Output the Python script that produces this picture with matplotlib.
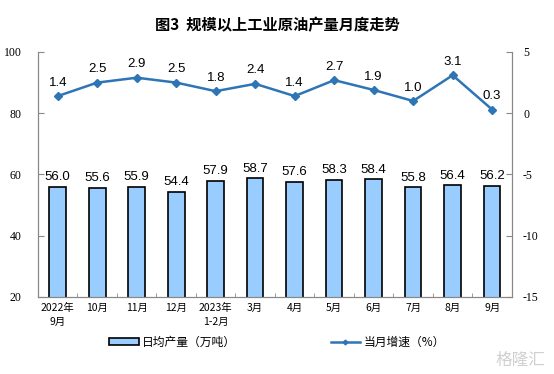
import matplotlib
matplotlib.use('Agg')
import numpy as np
import matplotlib.pyplot as plt

plt.rcParams['font.family'] = ['Noto Sans CJK SC', 'DejaVu Sans']

months = ['2022年\n9月', '10月', '11月', '12月', '2023年\n1-2月', '3月', '4月',
          '5月', '6月', '7月', '8月', '9月']
output = [56.0, 55.6, 55.9, 54.4, 57.9, 58.7, 57.6, 58.3, 58.4, 55.8, 56.4, 56.2]
growth = [1.4, 2.5, 2.9, 2.5, 1.8, 2.4, 1.4, 2.7, 1.9, 1.0, 3.1, 0.3]

fig = plt.figure(figsize=(5.54, 3.74), dpi=100)
fig.text(0.5, 0.933, '图3  规模以上工业原油产量月度走势', ha='center', va='center',
         fontsize=11, fontweight='semibold')
ax = fig.add_axes([0.0686, 0.206, 0.8554, 0.655])
x = np.arange(len(months))
bars = ax.bar(x, output, width=0.42, bottom=0, color='#99ccff', edgecolor='black',
              linewidth=1.2, label='日均产量（万吨）')
ax.set_ylim(20, 100)
ax.set_xlim(-0.5, len(months) - 0.5)
for xi, v in zip(x, output):
    ax.text(xi, v + 1.2, '%.1f' % v, ha='center', va='bottom', fontsize=9.5,
            family='Liberation Sans')
ax.set_yticks([20, 40, 60, 80, 100])
ax.set_yticklabels(['20', '40', '60', '80', '100'], family='Liberation Serif', fontsize=8.5)
ax.set_xticks(x)
ax.set_xticklabels(months, fontsize=7.5, linespacing=1.6)
ax.tick_params(axis='y', direction='in', length=4, color='#888888', pad=12)
ax.tick_params(axis='x', length=0, pad=4)
ax.set_xticks(np.arange(-0.5, len(months), 1), minor=True)
ax.tick_params(axis='x', which='minor', direction='in', length=3, color='#888888')
for s in ax.spines.values():
    s.set_color('#888888')
ax.spines['top'].set_visible(False)

ax2 = ax.twinx()
ax2.plot(x, growth, color='#2e75b6', linewidth=1.8, marker='D', markersize=4,
         label='当月增速（%）')
ax2.set_ylim(-15, 5)
ax2.set_yticks([-15, -10, -5, 0, 5])
ax2.set_yticklabels(['-15', '-10', '-5', '0', '5'], family='Liberation Serif', fontsize=8.5)
ax2.tick_params(axis='y', direction='in', length=4, color='#888888', pad=8)
for s in ax2.spines.values():
    s.set_color('#888888')
ax2.spines['top'].set_visible(False)
for xi, v in zip(x, growth):
    ax2.text(xi, v + 0.6, '%.1f' % v, ha='center', va='bottom', fontsize=9.5,
             family='Liberation Sans')

h1, l1 = ax.get_legend_handles_labels()
h2, l2 = ax2.get_legend_handles_labels()
fig.legend(h1 + h2, l1 + l2, loc='center', bbox_to_anchor=(0.5, 0.085), ncol=2,
           frameon=False, fontsize=8.5, columnspacing=8, handlelength=2.5,
           handleheight=0.6, handletextpad=0.3, markerscale=0.6)
fig.text(0.985, 0.035, '格隆汇', ha='right', va='center', fontsize=12, color='#d0d0d0')
fig.savefig('out.png', dpi=100)
